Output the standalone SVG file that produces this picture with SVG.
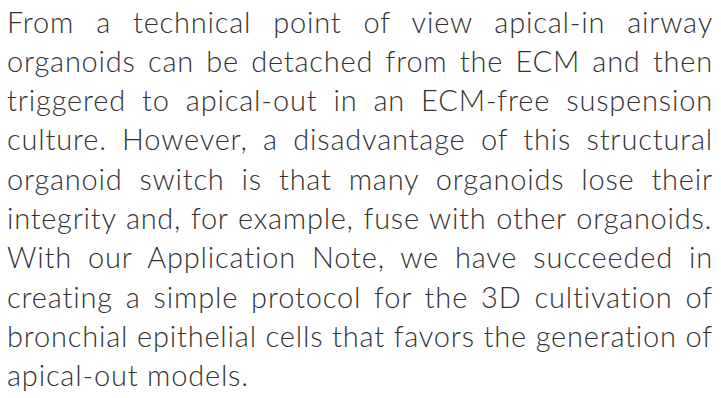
<svg xmlns="http://www.w3.org/2000/svg" width="721" height="398" viewBox="0 0 721 398">
<style>
.t{font-family:Lato,"Open Sans","Liberation Sans",sans-serif;font-weight:300;font-size:29px;fill:#333333;letter-spacing:0.8px}
</style>
<rect width="721" height="398" fill="#ffffff"/>
<g id="paragraph">
<text class="t" x="7" y="32.5" word-spacing="13.3" textLength="706" lengthAdjust="spacing">From a technical point of view apical-in airway</text>
<text class="t" x="7" y="71.8" word-spacing="3.6" textLength="706" lengthAdjust="spacing">organoids can be detached from the ECM and then</text>
<text class="t" x="7" y="111.1" word-spacing="7.3" textLength="706" lengthAdjust="spacing">triggered to apical-out in an ECM-free suspension</text>
<text class="t" x="7" y="150.4" word-spacing="6.7" textLength="706" lengthAdjust="spacing">culture. However, a disadvantage of this structural</text>
<text class="t" x="7" y="189.7" word-spacing="8.4" textLength="706" lengthAdjust="spacing">organoid switch is that many organoids lose their</text>
<text class="t" x="7" y="229" word-spacing="1.3" textLength="705" lengthAdjust="spacing">integrity and, for example, fuse with other organoids.</text>
<text class="t" x="7" y="268.3" word-spacing="7.3" textLength="706" lengthAdjust="spacing">With our Application Note, we have succeeded in</text>
<text class="t" x="7" y="307.6" word-spacing="4.2" textLength="706" lengthAdjust="spacing">creating a simple protocol for the 3D cultivation of</text>
<text class="t" x="7" y="346.9" word-spacing="0.1" textLength="706" lengthAdjust="spacing">bronchial epithelial cells that favors the generation of</text>
<text class="t" x="7" y="386.2">apical-out models.</text>
</g>
</svg>
